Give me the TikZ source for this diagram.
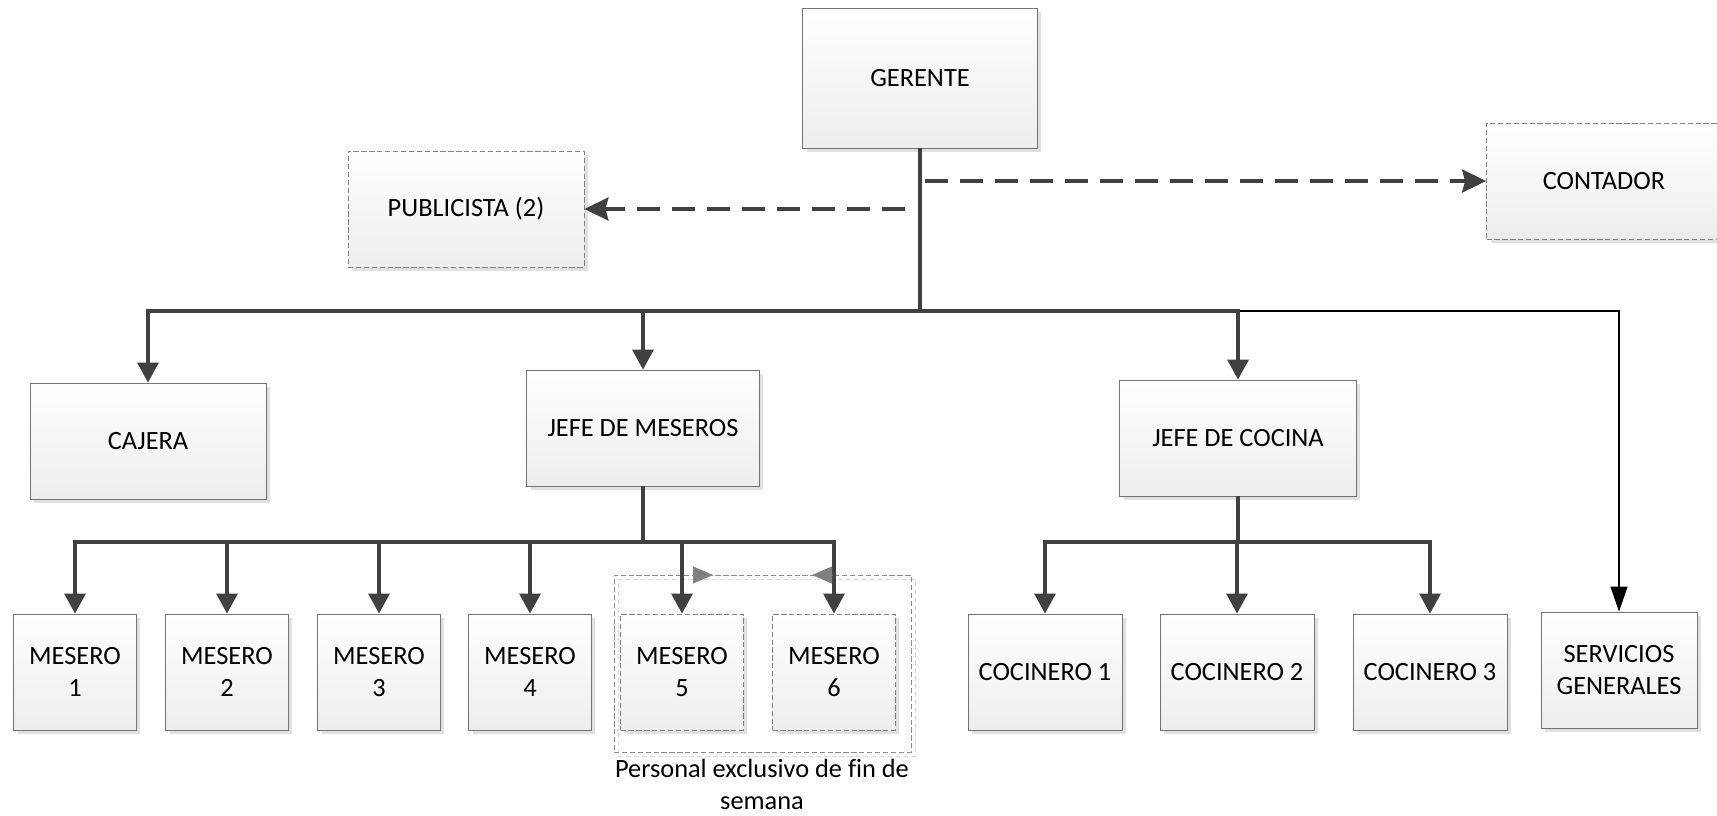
\documentclass[tikz,border=0pt]{standalone}
\usepackage{fontspec}
\setmainfont{Carlito}[Ligatures=NoCommon]
\usetikzlibrary{arrows.meta,shadows}

\tikzset{
	box/.style={draw=black!55, line width=0.5pt, top color=white, bottom color=black!7,
		drop shadow={shadow xshift=0.08cm, shadow yshift=-0.08cm, opacity=1, fill=black!12},
		align=center, font=\fontsize{15}{18.2}\selectfont, inner sep=2pt,
		minimum height=2.32cm, minimum width=#1},
	box/.default=4.7cm,
	dbox/.style={box=#1, draw=black!50, dash pattern=on 3pt off 1.5pt},
	dbox/.default=4.7cm,
	grpbox/.style={draw=black!45, line width=0.5pt, dash pattern=on 3pt off 1.5pt,
		minimum width=5.94cm, minimum height=3.54cm, inner sep=0pt},
	line/.style={draw=black!75, line width=1.8pt},
	conn/.style={line, -{Triangle[length=0.4cm,width=0.42cm]}},
	dconn/.style={line, line width=2pt, dash pattern=on 0.46cm off 0.24cm,
		-{Stealth[length=0.48cm,width=0.46cm,inset=0.06cm]}},
	tconn/.style={draw=black, line width=0.6pt, -{Triangle[length=0.5cm,width=0.34cm]}},
	gconn/.style={draw=black!50, line width=0.5pt, -{Triangle[length=0.4cm,width=0.34cm]}},
}

\begin{document}
\begin{tikzpicture}[x=0.02cm, y=-0.02cm]
		\useasboundingbox (0, 0) rectangle (1717, 815);

		% direccion
		\node[box, minimum height=2.8cm] (ger) at (920, 78) {GERENTE};
		\node[dbox=4.72cm] (pub) at (466, 209) {PUBLICISTA (2)};
		\node[dbox] (cont) at (1604, 181) {CONTADOR};

		% jefes
		\node[box=4.72cm] (caj) at (148, 441) {CAJERA};
		\node[box=4.66cm] (jm) at (643, 428) {JEFE DE MESEROS};
		\node[box=4.74cm] (jc) at (1238, 438) {JEFE DE COCINA};
		\node[box=3.12cm] (sg) at (1619, 670) {SERVICIOS\\GENERALES};

		% meseros
		\node[grpbox, xshift=0.08cm, yshift=-0.08cm, draw=black!15] at (762.5, 663.5) {};
		\node[grpbox] (grupo) at (762.5, 663.5) {};
		\node[font=\fontsize{15}{18.2}\selectfont, align=center] (lbl) at (762, 784)
			{Personal exclusivo de fin de\\semana};

		\foreach \i/\x/\s in {1/75/box, 2/227/box, 3/379/box, 4/530/box, 5/682/dbox, 6/834/dbox}
		\node[\s=2.46cm] (m\i) at (\x, 672) {MESERO\\\i};

		% cocineros
		\foreach \i/\x in {1/1045, 2/1237, 3/1430}
		\node[box=3.08cm] (c\i) at (\x, 672) {COCINERO \i};

		% conexiones
		\coordinate (bus) at (920, 311);
		\coordinate (pubini) at (905, 209);
		\coordinate (contini) at (925, 181);
		\coordinate (jmbus) at (643, 542);
		\coordinate (jcbus) at (1238, 542);

		\draw[line] (ger) -- (bus);
		\draw[dconn] (pubini) -- (pub);
		\draw[dconn] (contini) -- (cont.west);

		\draw[tconn] (bus) -| (sg);
		\draw[conn] (bus) -| (caj);
		\draw[conn] (bus) -| (jm);
		\draw[conn] (bus) -| (jc);

		\draw[line] (jm) -- (jmbus);
		\foreach \i in {1, ..., 6}
		\draw[conn] (jmbus) -| (m\i);

		\draw[line] (jc) -- (jcbus);
		\foreach \i in {1, ..., 3}
		\draw[conn] (jcbus) -| (c\i);

		% flechas grises del grupo
		\coordinate (g1a) at (693, 575);
		\coordinate (g1b) at (713, 575);
		\coordinate (g2a) at (832, 575);
		\coordinate (g2b) at (812, 575);
		\draw[gconn] (g1a) -- (g1b);
		\draw[gconn] (g2a) -- (g2b);

	\end{tikzpicture}
\end{document}
